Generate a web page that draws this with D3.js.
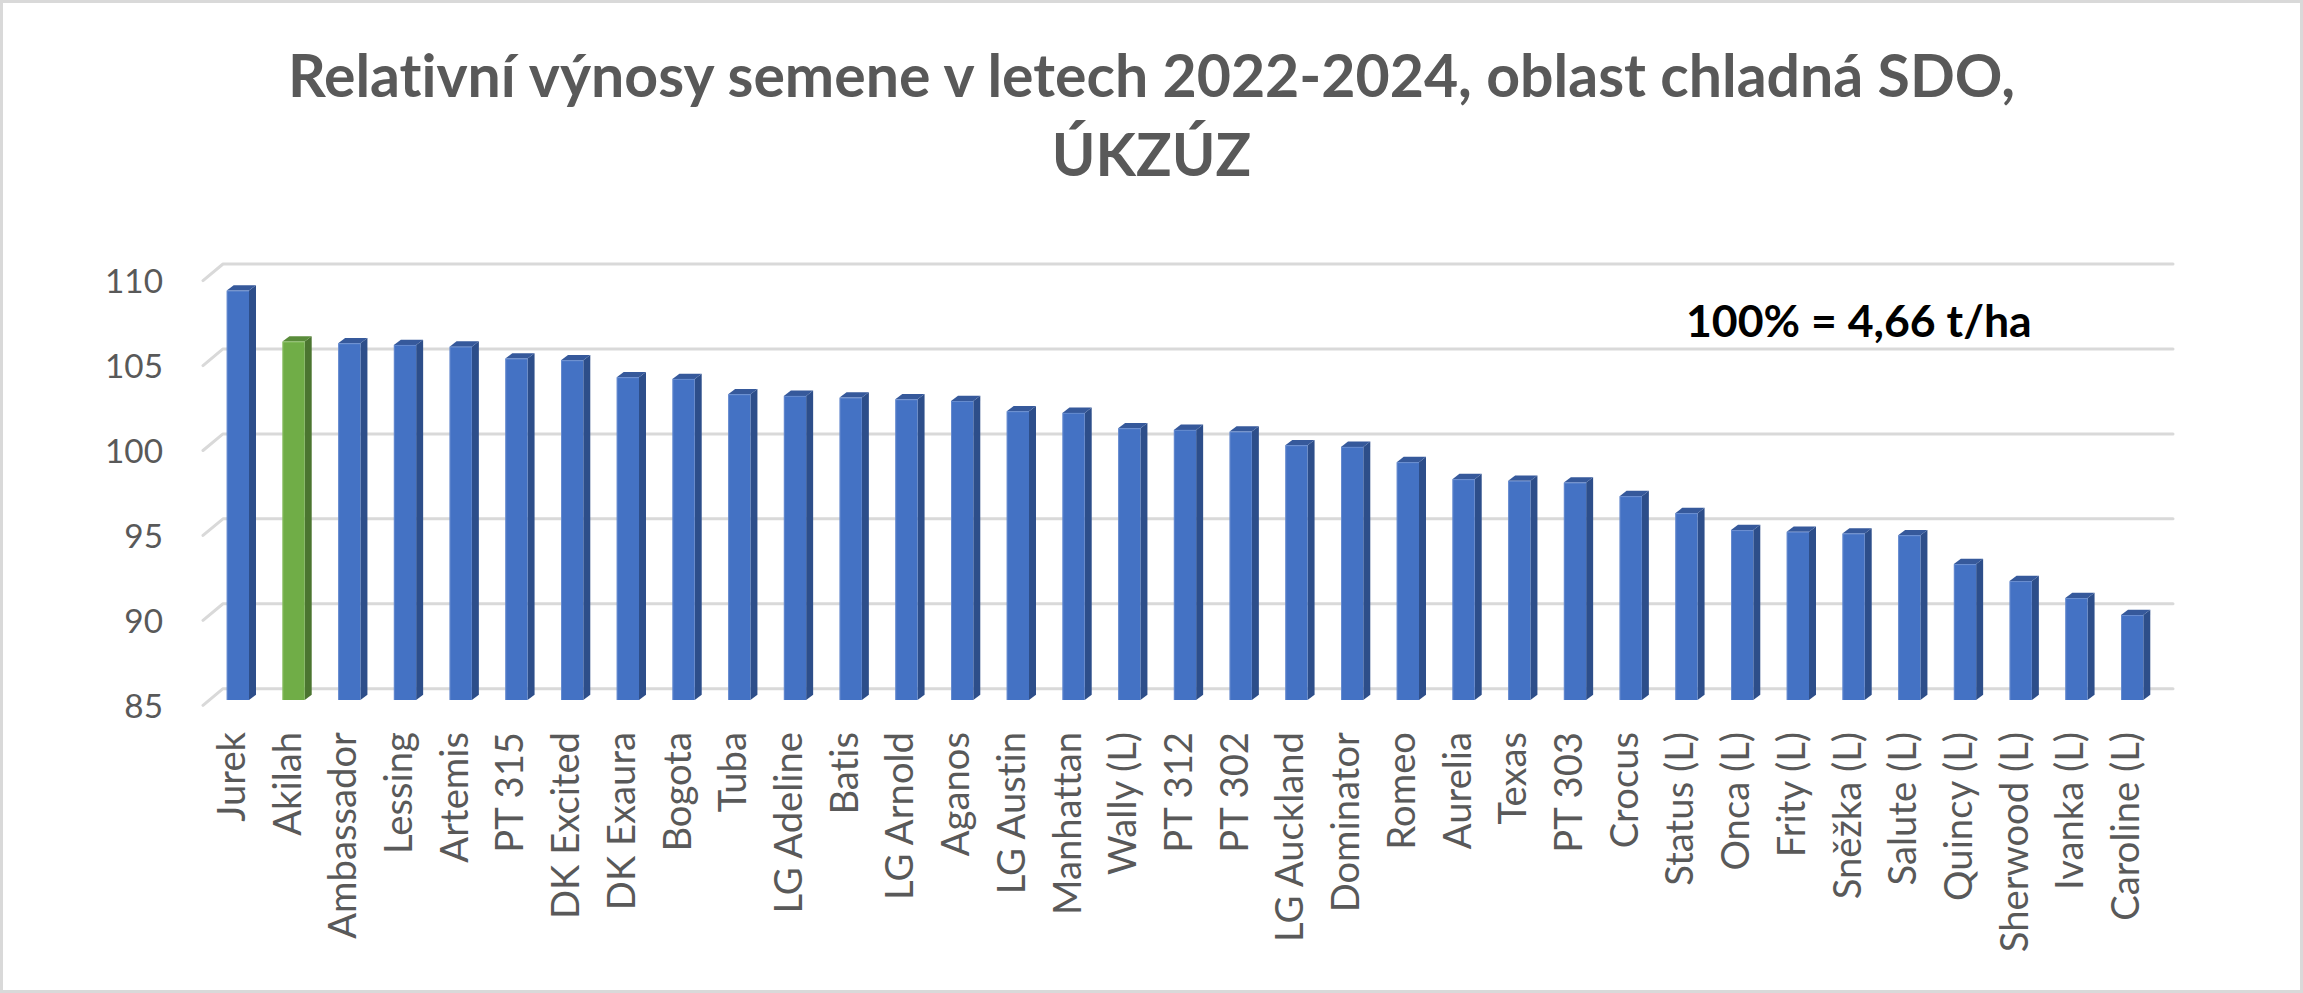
<!DOCTYPE html>
<html>
<head>
<meta charset="utf-8">
<script src="https://cdn.jsdelivr.net/npm/d3@7"></script>
<style>
  html, body { margin: 0; padding: 0; background: #ffffff; }
  svg { display: block; }
  text { font-variant-ligatures: none; font-feature-settings: "liga" 0, "clig" 0; }
</style>
</head>
<body>
<svg id="chart" width="2303" height="993"></svg>
<script>
// ---- data ----
const categories = ["Jurek","Akilah","Ambassador","Lessing","Artemis","PT 315","DK Excited","DK Exaura","Bogota","Tuba","LG Adeline","Batis","LG Arnold","Aganos","LG Austin","Manhattan","Wally (L)","PT 312","PT 302","LG Auckland","Dominator","Romeo","Aurelia","Texas","PT 303","Crocus","Status (L)","Onca (L)","Frity (L)","Sněžka (L)","Salute (L)","Quincy (L)","Sherwood (L)","Ivanka (L)","Caroline (L)"];
const values = [109.1,106.1,106.0,105.9,105.8,105.1,105.0,104.0,103.9,103.0,102.9,102.8,102.7,102.6,102.0,101.9,101.0,100.9,100.8,100.0,99.9,99.0,98.0,97.9,97.8,97.0,96.0,95.0,94.9,94.8,94.7,93.0,92.0,91.0,90.0];
const highlighted = ["Akilah"];
const yTicks = [85, 90, 95, 100, 105, 110];
const titleLines = ["Relativní výnosy semene v letech 2022-2024, oblast chladná SDO,", "ÚKZÚZ"];
const annotation = "100% = 4,66 t/ha";

// ---- layout ----
const W = 2303, H = 993;
const FONT = "Lato, 'Open Sans', 'Liberation Sans', sans-serif";
const svg = d3.select("#chart");

const x = d3.scaleBand().domain(categories).range([210, 2160]).padding(0);
const y = d3.scaleLinear().domain([85, 110]).range([700, 275.3]);

const barW = x.bandwidth() * 0.4;
const bdx = 7, bdy = -5.3;      // bar depth
const wdx = 13, wdy = -11.3;    // back wall offset from bar front plane
const fdx = -7, fdy = 5.3;      // front floor offset from bar front plane

const colors = {
  blue:  { front: "#4472C4", side: "#2D4E8A", top: "#36599B", edge: "#7C9BD6" },
  green: { front: "#70AD47", side: "#4B7530", top: "#5A8C3A", edge: "#9CCB7C" }
};

// outer border
svg.append("rect").attr("x", 1.5).attr("y", 1.5).attr("width", W - 3).attr("height", H - 3)
  .attr("fill", "#ffffff").attr("stroke", "#D9D9D9").attr("stroke-width", 3);

// gridlines on back wall, with diagonal on side
const grid = svg.append("g");
const x0 = x.range()[0], x1 = x.range()[1];
yTicks.forEach(t => {
  const yy = y(t);
  grid.append("path")
    .attr("d", `M${x0 + fdx},${yy + fdy} L${x0 + wdx},${yy + wdy} L${x1 + wdx},${yy + wdy}`)
    .attr("fill", "none").attr("stroke", "#D9D9D9").attr("stroke-width", 3)
    .attr("stroke-linecap", "round").attr("stroke-linejoin", "round");
});

// y-axis labels
const yLab = svg.append("g").attr("font-family", FONT).attr("fill", "#595959");
yTicks.forEach(t => {
  yLab.append("text").attr("class", "ytick")
    .attr("x", 163).attr("y", y(t) + 18)
    .attr("text-anchor", "end").attr("font-size", 34).text(t);
});

// bars
const bars = svg.append("g");
categories.forEach((c, i) => {
  const v = values[i];
  const col = highlighted.includes(c) ? colors.green : colors.blue;
  const cx = x(c) + x.bandwidth() / 2;
  const xl = cx - barW / 2, xr = cx + barW / 2;
  const yt = y(v), yb = y(85);
  const g = bars.append("g");
  g.append("path").attr("d", `M${xr},${yt} L${xr + bdx},${yt + bdy} L${xr + bdx},${yb + bdy} L${xr},${yb} Z`)
    .attr("fill", col.side);
  g.append("path").attr("d", `M${xl},${yt} L${xl + bdx},${yt + bdy} L${xr + bdx},${yt + bdy} L${xr},${yt} Z`)
    .attr("fill", col.top);
  g.append("rect").attr("x", xl).attr("y", yt).attr("width", barW).attr("height", yb - yt)
    .attr("fill", col.front);
  g.append("path").attr("d", `M${xl + 0.5},${yb} L${xl + 0.5},${yt + 0.5} L${xr},${yt + 0.5}`)
    .attr("fill", "none").attr("stroke", col.edge).attr("stroke-width", 1).attr("opacity", 0.6);
});

// category labels
const cLab = svg.append("g").attr("font-family", FONT).attr("fill", "#595959");
categories.forEach(c => {
  const cx = x(c) + x.bandwidth() / 2;
  cLab.append("text").attr("class", "cat")
    .attr("transform", `translate(${cx + 7},732) rotate(-90)`)
    .attr("text-anchor", "end").attr("font-size", 38).text(c);
});

// title
const tg = svg.append("g").attr("font-family", FONT).attr("font-weight", "bold").attr("fill", "#595959");
tg.append("text").attr("class", "title").attr("x", W / 2).attr("y", 97.3).attr("text-anchor", "middle").attr("font-size", 64).text(titleLines[0]);
tg.append("text").attr("class", "title").attr("x", W / 2).attr("y", 176).attr("text-anchor", "middle").attr("font-size", 64).text(titleLines[1]);

// annotation
svg.append("text").attr("class", "note")
  .attr("x", 1686).attr("y", 336.7)
  .attr("font-family", FONT).attr("font-weight", "bold").attr("fill", "#000000")
  .attr("font-size", 44).text(annotation);

// fit font sizes so text widths match the reference
function fitSize(sel, refNode, target) {
  const fs = parseFloat(d3.select(refNode).attr("font-size"));
  const w = refNode.getComputedTextLength();
  const nf = fs * target / w;
  sel.attr("font-size", nf);
  return nf;
}
function doFit() {
  const titles = svg.selectAll("text.title");
  fitSize(titles, titles.nodes()[0], 1727);
  const cats = svg.selectAll("text.cat");
  fitSize(cats, cats.nodes()[categories.indexOf("Ambassador")], 206.7);
  const yt = svg.selectAll("text.ytick");
  fitSize(yt, yt.nodes()[yTicks.indexOf(110)], 58);
  const nt = svg.selectAll("text.note");
  fitSize(nt, nt.node(), 345.7);
}
doFit();
if (document.fonts && document.fonts.ready) document.fonts.ready.then(doFit);
</script>
</body>
</html>
